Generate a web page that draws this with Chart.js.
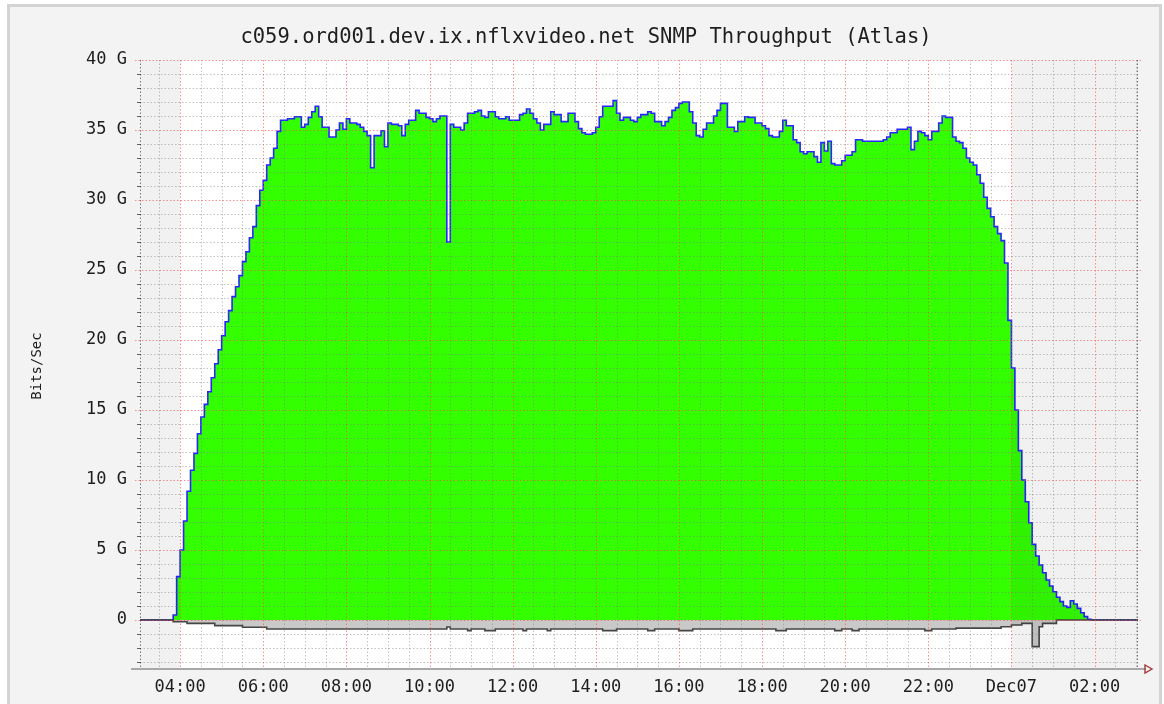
<!DOCTYPE html>
<html lang="en">
<head>
  <meta charset="UTF-8">
  <meta name="viewport" content="width=device-width, initial-scale=1.0">
  <title>c059.ord001.dev.ix.nflxvideo.net SNMP Throughput (Atlas)</title>
  <style>
    html, body { margin: 0; padding: 0; background: #fff; overflow: hidden; }
    .frame {
      position: absolute; left: 7px; top: 4px; width: 1155px; height: 710px;
      box-sizing: border-box; border: 3px solid #d3d3d3; background: #f3f3f3;
    }
    .wrap { position: absolute; left: 0; top: 0; width: 1164px; height: 704px; }
  </style>
</head>
<body>
<div class="frame"></div>
<div class="wrap">
  <canvas id="throughputChart"></canvas>
</div>
<script src="https://cdn.jsdelivr.net/npm/chart.js"></script>
<script>
  const chartTitle = 'c059.ord001.dev.ix.nflxvideo.net SNMP Throughput (Atlas)';
  const yAxisTitle = 'Bits/Sec';

  // 5 minute samples, first one at 03:00 (Dec06), hours past midnight Dec06
  const stepStartHour = 3;
  const stepMinutes = 5;

  // inbound traffic, Gbit/s, one row per hour
  const inbound = [
    0, 0, 0, 0, 0, 0, 0, 0, 0, 0, 0, 0.36,                                        // 03
    3.1, 5.0, 7.07, 9.2, 10.7, 11.9, 13.3, 14.5, 15.4, 16.3, 17.3, 18.3,          // 04
    19.3, 20.3, 21.3, 22.1, 23.1, 23.8, 24.6, 25.6, 26.3, 27.3, 28.1, 29.6,       // 05
    30.7, 31.4, 32.5, 33.0, 33.7, 34.9, 35.7, 35.7, 35.8, 35.8, 35.95, 35.95,     // 06
    35.2, 35.4, 35.9, 36.3, 36.7, 35.95, 35.2, 35.2, 34.5, 34.5, 35.0, 35.5,      // 07
    35.05, 35.8, 35.5, 35.5, 35.4, 35.2, 34.9, 34.6, 32.3, 34.6, 34.6, 34.95,     // 08
    33.8, 35.5, 35.4, 35.4, 35.3, 34.6, 35.4, 35.7, 35.7, 36.4, 36.2, 36.2,       // 09
    35.9, 35.8, 35.6, 35.8, 36.0, 36.0, 27.0, 35.4, 35.2, 35.2, 35.0, 35.5,       // 10
    36.2, 36.2, 36.3, 36.4, 36.0, 35.9, 36.3, 36.3, 35.95, 35.8, 35.8, 35.95,     // 11
    35.7, 35.7, 35.7, 36.1, 36.2, 36.5, 36.2, 35.8, 35.5, 35.0, 35.4, 35.4,       // 12
    36.3, 36.1, 36.1, 35.6, 35.6, 36.2, 36.2, 35.6, 35.1, 34.8, 34.7, 34.7,       // 13
    34.8, 35.2, 35.95, 36.7, 36.7, 36.7, 37.1, 36.2, 35.7, 35.9, 35.9, 35.7,      // 14
    35.6, 35.9, 36.1, 36.1, 36.3, 36.2, 35.6, 35.6, 35.3, 35.6, 35.9, 36.4,       // 15
    36.6, 36.9, 37.0, 37.0, 36.3, 35.5, 34.6, 34.5, 35.05, 35.5, 35.5, 36.0,      // 16
    36.4, 36.9, 36.9, 35.2, 35.2, 34.9, 35.6, 35.6, 35.95, 35.9, 35.9, 35.5,      // 17
    35.5, 35.3, 35.1, 34.6, 34.5, 34.5, 34.9, 35.7, 35.3, 35.3, 34.3, 34.1,       // 18
    33.45, 33.3, 33.45, 33.45, 33.1, 32.7, 34.1, 33.5, 34.2, 32.6, 32.5, 32.5,    // 19
    32.8, 33.2, 33.2, 33.45, 34.3, 34.3, 34.2, 34.2, 34.2, 34.2, 34.2, 34.2,      // 20
    34.3, 34.5, 34.8, 34.8, 35.05, 35.05, 35.05, 35.2, 33.6, 34.2, 34.9, 34.8,    // 21
    34.6, 34.3, 34.9, 34.9, 35.5, 36.0, 35.9, 35.9, 34.5, 34.2, 34.1, 33.7,       // 22
    33.0, 32.7, 32.5, 31.8, 31.2, 30.2, 29.4, 28.8, 28.1, 27.6, 27.1, 25.5,       // 23
    21.4, 18.0, 15.0, 12.1, 10.0, 8.45, 6.95, 5.4, 4.57, 3.93, 3.38, 2.86,        // 00 Dec07
    2.43, 2.02, 1.62, 1.31, 1.0, 0.9, 1.38, 1.14, 0.83, 0.52, 0.24, 0.05,         // 01
    0, 0, 0, 0, 0, 0, 0, 0, 0, 0, 0, 0,                                           // 02
    0, 0                                                                          // 03
  ];

  // outbound traffic, Gbit/s (drawn below zero)
  const outbound = [
    0, 0, 0, 0, 0, 0, 0, 0, 0, 0, 0, -0.12,                                                  // 03
    -0.12, -0.12, -0.12, -0.24, -0.24, -0.24, -0.24, -0.24, -0.24, -0.24, -0.24, -0.4,       // 04
    -0.4, -0.4, -0.4, -0.4, -0.4, -0.4, -0.4, -0.52, -0.52, -0.52, -0.52, -0.52,            // 05
    -0.52, -0.52, -0.64, -0.64, -0.64, -0.64, -0.64, -0.64, -0.64, -0.64, -0.64, -0.64,      // 06
    -0.64, -0.64, -0.64, -0.64, -0.64, -0.64, -0.64, -0.64, -0.64, -0.64, -0.64, -0.64,      // 07
    -0.64, -0.64, -0.64, -0.64, -0.64, -0.64, -0.64, -0.64, -0.64, -0.64, -0.64, -0.64,      // 08
    -0.64, -0.64, -0.64, -0.64, -0.64, -0.64, -0.64, -0.64, -0.64, -0.64, -0.64, -0.64,      // 09
    -0.64, -0.64, -0.64, -0.64, -0.64, -0.64, -0.5, -0.64, -0.64, -0.64, -0.64, -0.64,       // 10
    -0.76, -0.64, -0.64, -0.64, -0.64, -0.76, -0.76, -0.76, -0.64, -0.64, -0.64, -0.64,      // 11
    -0.64, -0.64, -0.64, -0.64, -0.76, -0.64, -0.64, -0.64, -0.64, -0.64, -0.64, -0.76,      // 12
    -0.64, -0.64, -0.64, -0.64, -0.64, -0.64, -0.64, -0.64, -0.64, -0.64, -0.64, -0.64,      // 13
    -0.64, -0.64, -0.64, -0.76, -0.76, -0.76, -0.76, -0.64, -0.64, -0.64, -0.64, -0.64,      // 14
    -0.64, -0.64, -0.64, -0.64, -0.76, -0.76, -0.64, -0.64, -0.64, -0.64, -0.64, -0.64,      // 15
    -0.64, -0.76, -0.76, -0.76, -0.76, -0.64, -0.64, -0.64, -0.64, -0.64, -0.64, -0.64,      // 16
    -0.64, -0.64, -0.64, -0.64, -0.64, -0.64, -0.64, -0.64, -0.64, -0.64, -0.64, -0.64,      // 17
    -0.64, -0.64, -0.64, -0.64, -0.64, -0.76, -0.76, -0.76, -0.64, -0.64, -0.64, -0.64,      // 18
    -0.64, -0.64, -0.64, -0.64, -0.64, -0.64, -0.64, -0.64, -0.64, -0.64, -0.76, -0.76,      // 19
    -0.64, -0.64, -0.64, -0.76, -0.76, -0.64, -0.64, -0.64, -0.64, -0.64, -0.64, -0.64,      // 20
    -0.64, -0.64, -0.64, -0.64, -0.64, -0.64, -0.64, -0.64, -0.64, -0.64, -0.64, -0.64,      // 21
    -0.76, -0.76, -0.64, -0.64, -0.64, -0.64, -0.64, -0.64, -0.64, -0.58, -0.58, -0.58,      // 22
    -0.58, -0.58, -0.58, -0.58, -0.58, -0.58, -0.58, -0.58, -0.58, -0.58, -0.48, -0.48,      // 23
    -0.48, -0.36, -0.36, -0.36, -0.24, -0.24, -0.24, -1.9, -1.9, -0.48, -0.24, -0.24,        // 00 Dec07
    -0.24, -0.24, 0, 0, 0, 0, 0, 0, 0, 0, 0, 0,                                              // 01
    0, 0, 0, 0, 0, 0, 0, 0, 0, 0, 0, 0,                                                      // 02
    0, 0                                                                                     // 03
  ];

  // axis ticks (x in hours past midnight Dec06)
  const xTickHours = [4, 6, 8, 10, 12, 14, 16, 18, 20, 22, 24, 26];
  const xTickLabels = ['04:00', '06:00', '08:00', '10:00', '12:00', '14:00', '16:00',
                       '18:00', '20:00', '22:00', 'Dec07', '02:00'];
  const yTickValues = [0, 5, 10, 15, 20, 25, 30, 35, 40];
  const yTickLabels = ['0', '5 G', '10 G', '15 G', '20 G', '25 G', '30 G', '35 G', '40 G'];

  // shaded (off-hours) spans
  const shadedSpans = [[3.035, 4], [24, 27.045]];

  const toPoints = vals => vals.map((v, i) => ({ x: stepStartHour + i * stepMinutes / 60, y: v }));

  const MONO = '"DejaVu Sans Mono", "Liberation Mono", monospace';

  const rrdLook = {
    id: 'rrdLook',
    beforeDraw(chart) {
      const { ctx, chartArea: a } = chart;
      ctx.save();
      ctx.fillStyle = '#ffffff';
      ctx.fillRect(a.left, a.top, a.right - a.left, a.bottom - a.top);
      ctx.restore();
    },
    afterDatasetsDraw(chart) {
      const { ctx, chartArea: a, scales: { x, y } } = chart;
      ctx.save();
      // off-hours shading
      ctx.fillStyle = 'rgba(0,0,0,0.055)';
      shadedSpans.forEach(([from, to]) => {
        const x0 = Math.max(a.left, x.getPixelForValue(from));
        const x1 = Math.min(a.right, x.getPixelForValue(to));
        ctx.fillRect(x0, a.top, x1 - x0, a.bottom - a.top);
      });
      // grid
      ctx.lineWidth = 1;
      ctx.setLineDash([1.5, 2]);
      y.ticks.forEach(t => {
        const py = Math.round(y.getPixelForValue(t.value)) + 0.5;
        const major = t.value % 5 === 0;
        ctx.strokeStyle = major ? 'rgba(255,70,70,0.6)' : 'rgba(120,120,120,0.45)';
        ctx.beginPath();
        ctx.moveTo(a.left - (major ? 5 : 0), py);
        ctx.lineTo(a.right + (major ? 4 : 0), py);
        ctx.stroke();
      });
      x.ticks.forEach(t => {
        const px = Math.round(x.getPixelForValue(t.value)) + 0.5;
        const major = Math.abs(t.value % 2) < 1e-6;
        ctx.strokeStyle = major ? 'rgba(255,70,70,0.6)' : 'rgba(120,120,120,0.45)';
        ctx.beginPath();
        ctx.moveTo(px, a.top);
        ctx.lineTo(px, a.bottom);
        ctx.stroke();
      });
      // plot edges
      ctx.strokeStyle = 'rgba(70,70,70,0.7)';
      [a.left + 0.5, Math.round(a.right) - 0.5].forEach(px => {
        ctx.beginPath();
        ctx.moveTo(px, a.top);
        ctx.lineTo(px, a.bottom);
        ctx.stroke();
      });
      // small tick marks on the left
      ctx.setLineDash([]);
      ctx.strokeStyle = 'rgba(60,60,60,0.8)';
      y.ticks.forEach(t => {
        if (t.value % 5 === 0) return;
        const py = Math.round(y.getPixelForValue(t.value)) + 0.5;
        ctx.beginPath();
        ctx.moveTo(a.left - 3, py);
        ctx.lineTo(a.left + 1, py);
        ctx.stroke();
      });
      ctx.restore();
    },
    afterDraw(chart) {
      const { ctx, chartArea: a } = chart;
      ctx.save();
      // bottom axis line and arrow
      ctx.strokeStyle = '#a8a8a8';
      ctx.lineWidth = 2;
      ctx.beginPath();
      ctx.moveTo(a.left - 9, a.bottom);
      ctx.lineTo(a.right + 8, a.bottom);
      ctx.stroke();
      ctx.strokeStyle = '#a33a3a';
      ctx.lineWidth = 1.4;
      ctx.beginPath();
      ctx.moveTo(a.right + 7, a.bottom - 4);
      ctx.lineTo(a.right + 14, a.bottom);
      ctx.lineTo(a.right + 7, a.bottom + 4);
      ctx.closePath();
      ctx.stroke();
      // title
      ctx.fillStyle = '#1e1e1e';
      ctx.font = '20.5px ' + MONO;
      ctx.textAlign = 'center';
      ctx.textBaseline = 'middle';
      ctx.fillText(chartTitle, 586, 38);
      // vertical axis title
      ctx.font = '14px ' + MONO;
      ctx.translate(37, 366);
      ctx.rotate(-Math.PI / 2);
      ctx.fillText(yAxisTitle, 0, 0);
      ctx.restore();
    }
  };

  const ctx = document.getElementById('throughputChart').getContext('2d');
  const throughputChart = new Chart(ctx, {
    type: 'line',
    data: {
      datasets: [
        {
          label: 'Outbound',
          data: toPoints(outbound),
          stepped: 'after',
          fill: 'origin',
          backgroundColor: '#c9c9c9',
          borderColor: '#454545',
          borderWidth: 1.6,
          pointRadius: 0
        },
        {
          label: 'Inbound',
          data: toPoints(inbound),
          stepped: 'after',
          fill: 'origin',
          backgroundColor: '#33ff00',
          borderColor: '#2626ff',
          borderWidth: 1.6,
          pointRadius: 0
        }
      ]
    },
    options: {
      responsive: true,
      maintainAspectRatio: false,
      animation: false,
      events: [],
      layout: { padding: { top: 60, left: 0, right: 26, bottom: 0 } },
      plugins: {
        legend: { display: false },
        tooltip: { enabled: false },
        title: { display: false }
      },
      scales: {
        x: {
          type: 'linear',
          min: 3.035,
          max: 27.045,
          grid: { display: false, drawTicks: false },
          border: { display: false },
          ticks: {
            stepSize: 0.5,
            includeBounds: false,
            autoSkip: false,
            maxRotation: 0,
            padding: 8,
            color: '#1e1e1e',
            font: { family: MONO, size: 17 },
            callback(value) {
              const i = xTickHours.findIndex(h => Math.abs(h - value) < 1e-6);
              return i >= 0 ? xTickLabels[i] : '';
            }
          },
          afterFit(scale) { scale.height = 35; }
        },
        y: {
          min: -3.5,
          max: 40,
          grid: { display: false, drawTicks: false },
          border: { display: false },
          ticks: {
            stepSize: 1,
            includeBounds: false,
            autoSkip: false,
            padding: 13,
            color: '#1e1e1e',
            font: { family: MONO, size: 17 },
            callback(value) {
              const i = yTickValues.indexOf(value);
              return i >= 0 ? yTickLabels[i] : '';
            }
          },
          afterFit(scale) { scale.width = 140; }
        }
      }
    },
    plugins: [rrdLook]
  });
</script>
</body>
</html>
